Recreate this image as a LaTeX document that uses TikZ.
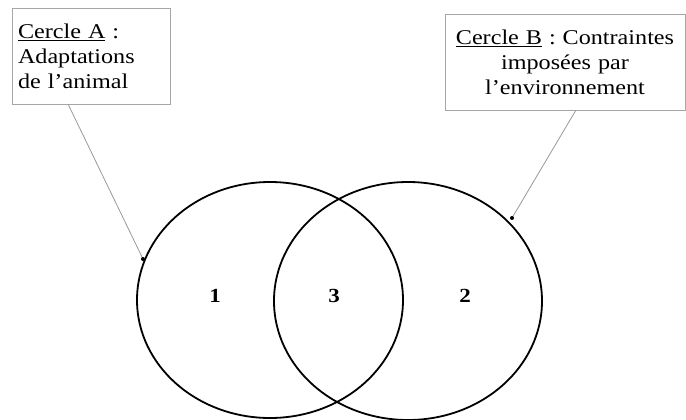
\documentclass[tikz,border=0pt]{standalone}
\usepackage{fontspec}
\setmainfont{Liberation Serif}[FakeStretch=1.15]
\usetikzlibrary{positioning}
\frenchspacing
\tikzset{
  labelbox/.style={draw=gray!70, line width=0.8pt, font=\fontsize{21}{25}\selectfont, inner sep=4pt},
  pointer/.style={gray!80, line width=0.8pt},
  region/.style={font=\fontsize{20}{24}\selectfont\bfseries},
}
\begin{document}
\begin{tikzpicture}[x=1pt, y=-1pt]
    \useasboundingbox (0,0) rectangle (686,420);
    % cercles
    \draw[line width=1.8pt] (270,300) ellipse (133 and 118);
    \draw[line width=1.8pt] (408,301) ellipse (134 and 119);
    % zones
    \node[region] (z1) at (215,296) {1};
    \node[region] (z3) at (334,296) {3};
    \node[region] (z2) at (465,296) {2};
    % boites
    \node[labelbox, minimum width=158pt, minimum height=96pt, align=left, text width=146pt] (boxA) at (91,56)
      {\underline{Cercle A} :\\Adaptations\\de l'animal};
    \node[labelbox, minimum width=238pt, minimum height=96pt, align=center, text width=232pt] (boxB) at (565,62)
      {\underline{Cercle B} : Contraintes\\imposées par\\l'environnement};
    % fleches
    \coordinate (ptA) at (143,259);
    \coordinate (ptB) at (512,218);
    \draw[pointer] (68,104) -- (ptA);
    \draw[pointer] (576,110) -- (ptB);
    \fill (ptA) circle (2pt);
    \fill (ptB) circle (2pt);
\end{tikzpicture}
\end{document}
